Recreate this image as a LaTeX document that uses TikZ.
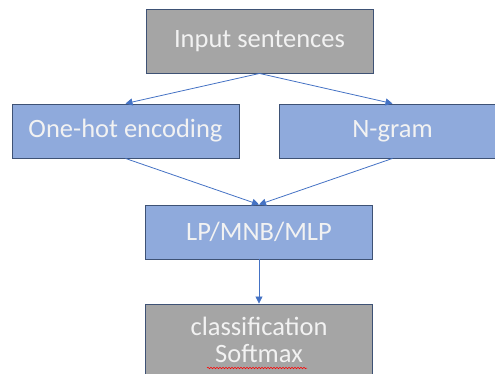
\documentclass[tikz,border=0pt]{standalone}
\usepackage{fontspec}
\setmainfont{Carlito}
\usetikzlibrary{arrows.meta,decorations.pathmorphing}

\definecolor{boxgray}{HTML}{A5A5A5}
\definecolor{boxblue}{HTML}{8FAADC}
\definecolor{boxline}{HTML}{3E5275}
\definecolor{arrowblue}{HTML}{4472C4}

\begin{document}
\begin{tikzpicture}[x=1pt, y=-1pt,
	every node/.style={font=\fontsize{26.5}{27}\selectfont, text=white!95!black},
	graybox/.style={draw=boxline, fill=boxgray, line width=0.9pt, minimum width=227pt, align=center},
	bluebox/.style={draw=boxline, fill=boxblue, line width=0.9pt, minimum width=227pt, minimum height=54pt, align=center},
	link/.style={draw=arrowblue, line width=0.8pt, -{Triangle[length=7pt, width=7pt]}}]
	\useasboundingbox (0,0) rectangle (495,374);
	\node[graybox, minimum height=64pt] (input) at (259.5,41) {Input sentences};
	\node[bluebox] (onehot) at (125.5,131) {One-hot encoding};
	\node[bluebox] (ngram) at (392.5,131) {N-gram};
	\node[bluebox] (model) at (259,232) {LP/MNB/MLP};
	\node[graybox, minimum height=72pt] (output) at (259,340) {classification\\Softmax};
	\draw[link] (input.south) -- (onehot.north);
	\draw[link] (input.south) -- (ngram.north);
	\draw[link] (onehot.south) -- (model.north);
	\draw[link] (ngram.south) -- (model.north);
	\draw[link] (model.south) -- (output.north);
	% spell-check mark under the last word
	\draw[red, line width=0.5pt, decorate, decoration={snake, segment length=3pt, amplitude=0.8pt}] (207,368) -- (307,368);
\end{tikzpicture}
\end{document}
